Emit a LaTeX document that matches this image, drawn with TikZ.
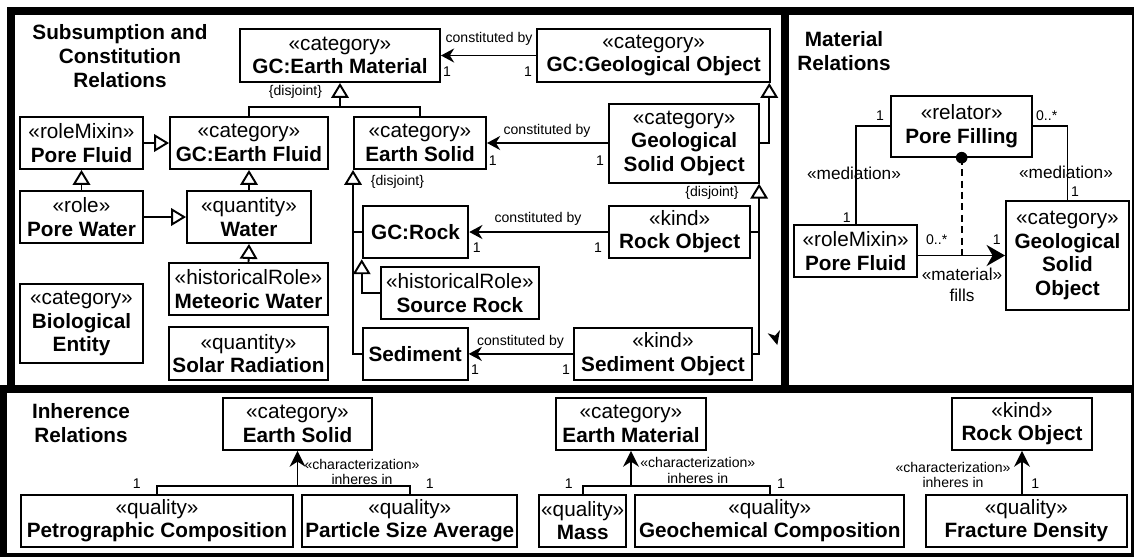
\documentclass[tikz,border=0pt]{standalone}
\usepackage{fontspec}
\setmainfont{Liberation Sans}
\usepackage{tikz}
\usetikzlibrary{arrows.meta}
\newcommand{\stereo}[1]{«#1»}
\tikzset{UMLnode/.style 2 args={draw,line width=1.1pt,inner sep=0pt,align=center,minimum width=#1*0.02cm,minimum height=#2*0.02cm,font=\fontsize{11.8}{13.4}\selectfont}}
\tikzset{UMLlabel/.style={inner sep=0pt,align=center,font=\fontsize{8}{8.8}\selectfont}}
\tikzset{UMLrole/.style={UMLlabel,font=\fontsize{9.8}{11}\selectfont}}
\tikzset{UMLtitle/.style={inner sep=0pt,align=center,font=\bfseries\fontsize{11.8}{13.6}\selectfont}}
\tikzset{UMLline/.style={line width=1.1pt}}
\tikzset{UMLgen/.style={UMLline,-{Triangle[length=8.5pt,width=10pt,fill=white]}}}
\tikzset{UMLconst/.style={UMLline,-{Stealth[length=7.5pt,width=8pt]}}}
\tikzset{UMLchar/.style={UMLline,-{Stealth[length=9pt,width=9pt]}}}
\tikzset{UMLmat/.style={UMLline,-{Stealth[length=10.5pt,width=12pt]}}}
\tikzset{UMLpanel/.style={line width=4.55pt}}

\begin{document}
\begin{tikzpicture}[x=0.02cm,y=-0.02cm]
	\useasboundingbox (0,0) rectangle (1134,556);
	\draw[UMLpanel] (11,11) rectangle (784.5,389);
	\draw[UMLpanel] (784.5,11) rectangle (1136,389);
	\draw[UMLpanel] (3,389) rectangle (1135,557);
	\fill (767.7,333.3) -- (775,335.7) -- (780,330) -- (777.3,345) -- cycle;
	%
	\node[UMLtitle] (tSub) at (120,56) {Subsumption and\\Constitution\\Relations};
	\node[UMLnode={200}{53}] (EM) at (340,55.5) {\stereo{category}\\\textbf{GC:Earth Material}};
	\node[UMLnode={232.7}{53}] (GO) at (653.7,55.5) {\stereo{category}\\\textbf{GC:Geological Object}};
	\node[UMLnode={123}{52}] (PF) at (81.5,143) {\stereo{roleMixin}\\\textbf{Pore Fluid}};
	\node[UMLnode={158}{52}] (EF) at (249,143) {\stereo{category}\\\textbf{GC:Earth Fluid}};
	\node[UMLnode={132}{52}] (ES) at (420,143) {\stereo{category}\\\textbf{Earth Solid}};
	\node[UMLnode={149.7}{78.7}] (GSO) at (684.2,143.4) {\stereo{category}\\\textbf{Geological}\\\textbf{Solid Object}};
	\node[UMLnode={123}{52}] (PW) at (81.5,217) {\stereo{role}\\\textbf{Pore Water}};
	\node[UMLnode={124}{52}] (W) at (249,217) {\stereo{quantity}\\\textbf{Water}};
	\node[UMLnode={105.6}{52.6}] (R) at (415.5,232) {\textbf{GC:Rock}};
	\node[UMLnode={140.7}{52}] (RO) at (679.7,231.7) {\stereo{kind}\\\textbf{Rock Object}};
	\node[UMLnode={159}{52}] (MW) at (248.5,289) {\stereo{historicalRole}\\\textbf{Meteoric Water}};
	\node[UMLnode={158.3}{52.3}] (SR) at (459.9,292.9) {\stereo{historicalRole}\\\textbf{Source Rock}};
	\node[UMLnode={123}{79}] (BE) at (81.5,323.5) {\stereo{category}\\\textbf{Biological}\\\textbf{Entity}};
	\node[UMLnode={159}{53}] (SRad) at (248.5,353.5) {\stereo{quantity}\\\textbf{Solar Radiation}};
	\node[UMLnode={105}{52.3}] (S) at (415.2,353.9) {\textbf{Sediment}};
	\node[UMLnode={177.4}{52.3}] (SO) at (663,353.9) {\stereo{kind}\\\textbf{Sediment Object}};
	%
	\coordinate (EMj) at (340,107);
	\draw[UMLline] (EF.north) |- (EMj) -| (ES.north);
	\draw[UMLgen] (EMj) -- (EM.south);
	\draw[UMLgen] (PF.east) -- (EF.west);
	\draw[UMLgen] (PW.north) -- (PF.south);
	\draw[UMLgen] (PW.east) -- (W.west);
	\draw[UMLgen] (W.north) -- (EF.south);
	\draw[UMLgen] (MW.north) -- (W.south);
	\draw[UMLgen] (GSO.east) -| ([xshift=-1pt]GO.south east);
	\coordinate (GSOg) at ([xshift=-0.5pt]GSO.south east);
	\draw[UMLgen] (SO.east) -| (GSOg);
	\draw[UMLline] (RO.east) -- (RO.east -| GSOg);
	\draw[UMLgen] (S.west) -| (ES.south west);
	\draw[UMLline] (R.west) -- (R.west -| ES.south west);
	\draw[UMLgen] (SR.west) -| (R.south west);
	\draw[UMLconst] (GO.west) -- (EM.east);
	\draw[UMLconst] (GSO.west |- ES.east) -- (ES.east);
	\draw[UMLconst] (RO.west |- R.east) -- (R.east);
	\draw[UMLconst] (SO.west) -- (S.east);
	%
	\node[UMLlabel] (dj1) at (295.5,92) {\{disjoint\}};
	\node[UMLlabel] (dj2) at (397.5,181.7) {\{disjoint\}};
	\node[UMLlabel] (dj3) at (712,192.7) {\{disjoint\}};
	\node[UMLlabel] (cb1) at (489,39) {constituted by};
	\node[UMLlabel] (m1a) at (447,72) {1};
	\node[UMLlabel] (m1b) at (528,72) {1};
	\node[UMLlabel] (cb2) at (547,131) {constituted by};
	\node[UMLlabel] (m2a) at (492.7,161) {1};
	\node[UMLlabel] (m2b) at (600,161) {1};
	\node[UMLlabel] (cb3) at (538,219) {constituted by};
	\node[UMLlabel] (m3a) at (476.7,248) {1};
	\node[UMLlabel] (m3b) at (598,248) {1};
	\node[UMLlabel] (cb4) at (520.5,341.7) {constituted by};
	\node[UMLlabel] (m4a) at (475,370) {1};
	\node[UMLlabel] (m4b) at (566,370) {1};
	%
	\node[UMLtitle] (tMat) at (844,51) {Material\\Relations};
	\node[UMLnode={141.3}{61}] (PFi) at (961.7,126.2) {\stereo{relator}\\\textbf{Pore Filling}};
	\node[UMLnode={123.3}{51.7}] (PF2) at (855.7,250.9) {\stereo{roleMixin}\\\textbf{Pore Fluid}};
	\node[UMLnode={123}{109}] (GSO2) at (1067.5,255.5) {\stereo{category}\\\textbf{Geological}\\\textbf{Solid}\\\textbf{Object}};
	\draw[UMLline] (PFi.west) -| (PF2.north);
	\draw[UMLline] (PFi.east) -| (GSO2.north);
	\draw[UMLmat] (PF2.east |- GSO2.west) -- (GSO2.west);
	\coordinate (PFj) at (PFi.south |- GSO2.west);
	\draw[UMLline,dash pattern=on 4pt off 2.5pt] (PFi.south) -- (PFj);
	\fill (PFi.south) circle (3.3pt);
	\node[UMLlabel] (m5a) at (880,116) {1};
	\node[UMLlabel] (m5b) at (1046.7,116) {0..*};
	\node[UMLrole] (med1) at (854,173) {\stereo{mediation}};
	\node[UMLrole] (med2) at (1066,172) {\stereo{mediation}};
	\node[UMLlabel] (m6a) at (846.7,218) {1};
	\node[UMLlabel] (m6b) at (1075,192) {1};
	\node[UMLlabel] (m7a) at (936.7,240) {0..*};
	\node[UMLlabel] (m7b) at (996.7,240) {1};
	\node[UMLrole] (matSt) at (962,274.3) {\stereo{material}};
	\node[UMLrole] (matNm) at (962,295) {fills};
	%
	\node[UMLtitle] (tInh) at (81,423.3) {Inherence\\Relations};
	\node[UMLnode={149.7}{52.3}] (ES2) at (297.5,423.8) {\stereo{category}\\\textbf{Earth Solid}};
	\node[UMLnode={272.7}{51.7}] (PC) at (157,520.8) {\stereo{quality}\\\textbf{Petrographic Composition}};
	\node[UMLnode={215}{51.7}] (PSA) at (409.8,520.8) {\stereo{quality}\\\textbf{Particle Size Average}};
	\node[UMLnode={149.3}{52.3}] (EM2) at (631,423.8) {\stereo{category}\\\textbf{Earth Material}};
	\node[UMLnode={87.3}{51.7}] (Mass) at (582.7,520.8) {\stereo{quality}\\\textbf{Mass}};
	\node[UMLnode={269}{51.7}] (GC) at (769.8,520.8) {\stereo{quality}\\\textbf{Geochemical Composition}};
	\node[UMLnode={140}{52.3}] (RO2) at (1022,423.8) {\stereo{kind}\\\textbf{Rock Object}};
	\node[UMLnode={200.7}{51.7}] (FD) at (1026.3,520.8) {\stereo{quality}\\\textbf{Fracture Density}};
	\coordinate (ESj) at (297.5,486);
	\draw[UMLline] (PC.north) |- (ESj) -| (PSA.north);
	\draw[UMLchar] (ESj) -- (ES2.south);
	\coordinate (EMj2) at (631,486);
	\draw[UMLline] (Mass.north) |- (EMj2) -| (GC.north);
	\draw[UMLchar] (EMj2) -- (EM2.south);
	\draw[UMLchar] (RO2.south |- FD.north) -- (RO2.south);
	\node[UMLlabel] (ch1) at (362,472) {\stereo{characterization}\\inheres in};
	\node[UMLlabel] (m8a) at (136.7,484) {1};
	\node[UMLlabel] (m8b) at (429.7,484) {1};
	\node[UMLlabel] (ch2) at (697.8,470.5) {\stereo{characterization}\\inheres in};
	\node[UMLlabel] (m9a) at (568.7,484) {1};
	\node[UMLlabel] (m9b) at (781,484) {1};
	\node[UMLlabel] (ch3) at (953,475) {\stereo{characterization}\\inheres in};
	\node[UMLlabel] (m10) at (1035.3,484) {1};
\end{tikzpicture}
\end{document}
